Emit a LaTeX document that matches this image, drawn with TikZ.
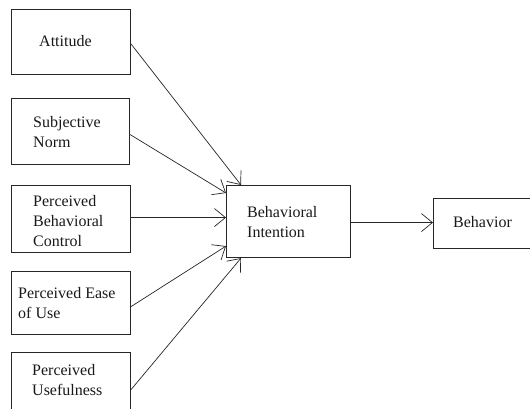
\documentclass[tikz,border=0pt]{standalone}
\usepackage{fontspec}
\setmainfont{Liberation Serif}
\usetikzlibrary{arrows.meta}
\begin{document}
\begin{tikzpicture}[x=1pt,y=-1pt,
  box/.style={draw=black!85, line width=1.1pt, rectangle, inner sep=0pt, anchor=north west},
  txt/.style={inner sep=0pt, anchor=base west, align=left, font=\fontsize{16}{20}\selectfont, text=black!90},
  conn/.style={draw=black!85, line width=0.7pt, -{Straight Barb[length=11pt,width=18pt,line width=0.7pt]}}]
\useasboundingbox (0,0) rectangle (530,409);
\fill[white] (0,0) rectangle (530,409);
\clip (0,0) rectangle (530,409);
% boxes
\node[box, minimum width=119pt, minimum height=65pt] (att) at (11,9) {};
\node[box, minimum width=118pt, minimum height=66pt] (sn) at (11,98) {};
\node[box, minimum width=119pt, minimum height=67pt] (pbc) at (11,185) {};
\node[box, minimum width=119pt, minimum height=63pt] (peu) at (11,271) {};
\node[box, minimum width=119pt, minimum height=70pt] (pu) at (11,352) {};
\node[box, minimum width=124pt, minimum height=72pt] (bi) at (226,185) {};
\node[box, minimum width=110pt, minimum height=50pt] (beh) at (433,198) {};
% texts (anchor = baseline of last line)
\node[txt] (tatt) at (39,47) {Attitude};
\node[txt] (tsn) at (33,147) {Subjective\\Norm};
\node[txt] (tpbc) at (33,246) {Perceived\\Behavioral\\Control};
\node[txt] (tpeu) at (18,318) {Perceived Ease\\of Use};
\node[txt] (tpu) at (32,395) {Perceived\\Usefulness};
\node[txt] (tbi) at (247,237) {Behavioral\\Intention};
\node[txt] (tbeh) at (453,227) {Behavior};
% connectors
\draw[conn] ([yshift=-2pt]att.east) -- ([xshift=15pt]bi.north west);
\draw[conn] ([yshift=-3pt]sn.east) -- ([yshift=-8pt]bi.north west);
\draw[conn] ([yshift=1.5pt]pbc.east) -- ([yshift=1.5pt]pbc.east -| bi.west);
\draw[conn] ([yshift=-3.5pt]peu.east) -- ([yshift=12pt]bi.south west);
\draw[conn] ([yshift=-2pt]pu.east) -- ([xshift=15pt]bi.south west);
\draw[conn] ([yshift=-1pt]bi.east) -- ([yshift=-1pt]bi.east -| beh.west);
\end{tikzpicture}
\end{document}
